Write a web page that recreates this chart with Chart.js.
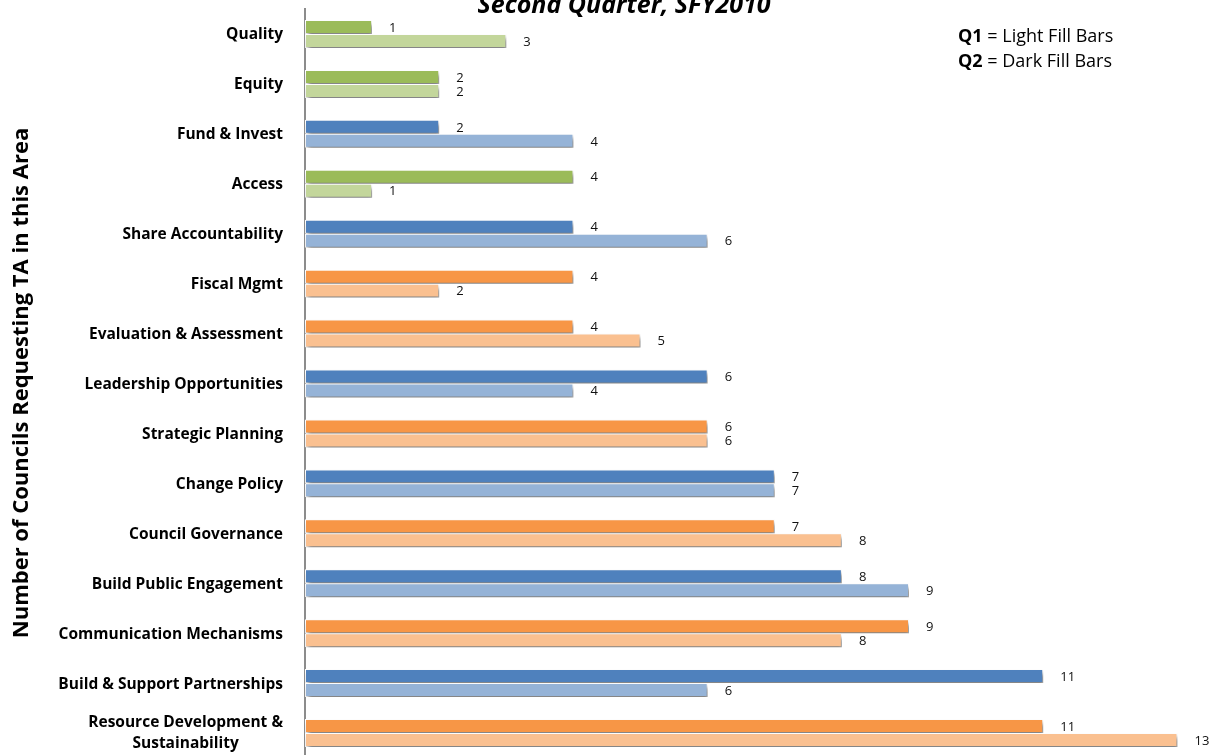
<!DOCTYPE html>
<html>
<head>
<meta charset="utf-8">
<script src="https://cdn.jsdelivr.net/npm/chart.js@4.4.1/dist/chart.umd.min.js"></script>
<style>
  html, body { margin: 0; padding: 0; background: #fff; overflow: hidden; }
  #wrap { width: 1215px; height: 758px; position: relative; }
</style>
</head>
<body>
<div id="wrap"><canvas id="c" width="1215" height="758"></canvas></div>
<script>
// Technical-assistance areas, top to bottom
const categories = [
  ['Quality'],
  ['Equity'],
  ['Fund & Invest'],
  ['Access'],
  ['Share Accountability'],
  ['Fiscal Mgmt'],
  ['Evaluation & Assessment'],
  ['Leadership Opportunities'],
  ['Strategic Planning'],
  ['Change Policy'],
  ['Council Governance'],
  ['Build Public Engagement'],
  ['Communication Mechanisms'],
  ['Build & Support Partnerships'],
  ['Resource Development &', 'Sustainability']
];

// Colour family of each area
const families = [
  'green', 'green', 'blue', 'green', 'blue', 'orange', 'orange', 'blue',
  'orange', 'blue', 'orange', 'blue', 'orange', 'blue', 'orange'
];

// Number of councils requesting TA, per quarter
const q2Values = [1, 2, 2, 4, 4, 4, 4, 6, 6, 7, 7, 8, 9, 11, 11];
const q1Values = [3, 2, 4, 1, 6, 2, 5, 4, 6, 7, 8, 9, 8, 6, 13];

const darkFill  = { green: '#9BBB59', blue: '#4F81BD', orange: '#F79646' };
const lightFill = { green: '#C3D69B', blue: '#95B3D7', orange: '#FAC090' };

const FONT = '"Open Sans", Lato, sans-serif';

// Soft drop shadow under the bars, then value labels at the bar ends
const barDecor = {
  id: 'barDecor',
  beforeDatasetsDraw(chart) {
    const ctx = chart.ctx;
    ctx.save();
    ctx.shadowColor = 'rgba(0,0,0,0.5)';
    ctx.shadowBlur = 4;
    ctx.shadowOffsetX = 2;
    ctx.shadowOffsetY = 4;
  },
  afterDatasetsDraw(chart) {
    const ctx = chart.ctx;
    ctx.restore();
    ctx.save();
    ctx.font = '13px ' + FONT;
    ctx.fillStyle = '#111';
    ctx.textAlign = 'left';
    ctx.textBaseline = 'middle';
    chart.data.datasets.forEach((ds, di) => {
      chart.getDatasetMeta(di).data.forEach((el, i) => {
        ctx.fillText(String(ds.data[i]), el.x + 17, el.y + 1);
      });
    });
    ctx.restore();
  }
};

// Category labels, axis title, heading and key
const annotations = {
  id: 'annotations',
  afterDraw(chart) {
    const ctx = chart.ctx;
    const y = chart.scales.y;
    const left = chart.chartArea.left;
    ctx.save();
    ctx.fillStyle = '#000';
    ctx.font = 'bold 15.5px ' + FONT;
    ctx.textBaseline = 'middle';
    categories.forEach((lines, i) => {
      const cy = y.getPixelForValue(i);
      const lh = 21;
      const top = cy - (lines.length - 1) * lh / 2;
      if (lines.length === 1) {
        ctx.textAlign = 'right';
        ctx.fillText(lines[0], left - 22, cy + 1);
      } else {
        const widest = Math.max(...lines.map(t => ctx.measureText(t).width));
        const cx = left - 22 - widest / 2;
        ctx.textAlign = 'center';
        lines.forEach((t, k) => ctx.fillText(t, cx, top + k * lh));
      }
    });

    // vertical axis title
    ctx.save();
    ctx.translate(22, 383);
    ctx.rotate(-Math.PI / 2);
    ctx.textAlign = 'center';
    ctx.textBaseline = 'middle';
    ctx.font = 'bold 22px ' + FONT;
    ctx.fillText('Number of Councils Requesting TA in this Area', 0, 0);
    ctx.restore();

    // heading (runs off the top edge)
    ctx.font = 'italic bold 25px ' + FONT;
    ctx.textAlign = 'center';
    ctx.textBaseline = 'alphabetic';
    ctx.fillText('Second Quarter, SFY2010', 624, 13);

    // key
    ctx.textAlign = 'left';
    ctx.textBaseline = 'middle';
    [['Q1', ' = Light Fill Bars', 37], ['Q2', ' = Dark Fill Bars', 62]].forEach(([b, rest, ty]) => {
      ctx.font = 'bold 18px ' + FONT;
      ctx.fillText(b, 958, ty);
      const w = ctx.measureText(b).width;
      ctx.font = '18px ' + FONT;
      ctx.fillText(rest, 958 + w, ty);
    });
    ctx.restore();
  }
};

new Chart(document.getElementById('c'), {
  type: 'bar',
  data: {
    labels: categories.map(l => l.join(' ')),
    datasets: [
      {
        label: 'Q2',
        data: q2Values,
        backgroundColor: families.map(f => darkFill[f]),
        borderColor: '#ffffff',
        borderWidth: 1,
        borderSkipped: false
      },
      {
        label: 'Q1',
        data: q1Values,
        backgroundColor: families.map(f => lightFill[f]),
        borderColor: '#ffffff',
        borderWidth: 1,
        borderSkipped: false
      }
    ]
  },
  options: {
    indexAxis: 'y',
    responsive: false,
    devicePixelRatio: 1,
    animation: false,
    categoryPercentage: 0.56,
    barPercentage: 1.0,
    layout: { padding: { left: 0, top: 9, right: 4, bottom: 0 } },
    plugins: {
      legend: { display: false },
      tooltip: { enabled: false },
      title: { display: false }
    },
    scales: {
      x: {
        display: false,
        min: 0,
        max: 13.5
      },
      y: {
        afterFit(scale) { scale.width = 305; },
        ticks: { display: false },
        grid: { display: false },
        border: { display: true, color: '#8c8c8c', width: 2 }
      }
    }
  },
  plugins: [barDecor, annotations]
});
</script>
</body>
</html>
